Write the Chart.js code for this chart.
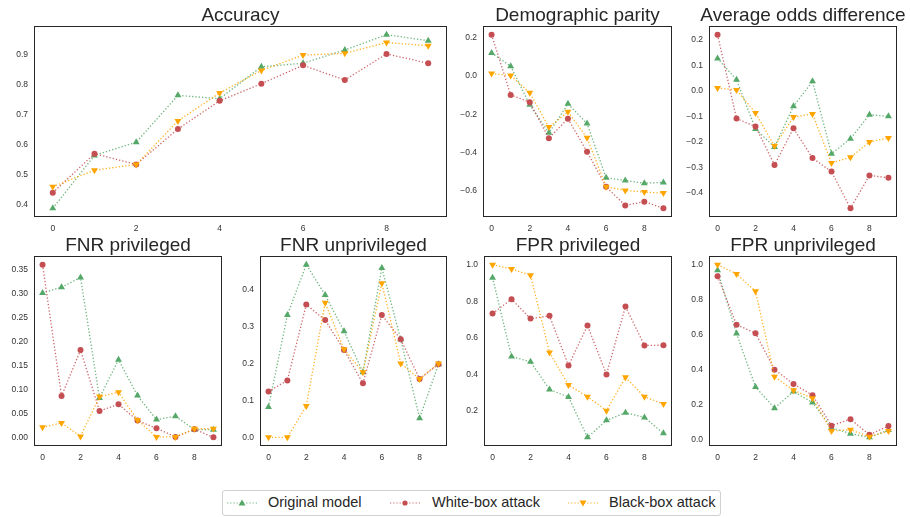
<!DOCTYPE html>
<html>
<head>
<meta charset="utf-8">
<script src="https://cdn.jsdelivr.net/npm/chart.js@4/dist/chart.umd.min.js"></script>
<style>
  body { margin: 0; background: #fff; font-family: "Liberation Sans", Arial, sans-serif; }
  #wrap { position: relative; width: 910px; height: 517px; overflow: hidden; }
  .panel { position: absolute; }
  #legend { position: absolute; left: 222px; top: 490px; width: 497px; height: 24px; border: 1px solid #d0d0d0; border-radius: 3px; background: #fff; }
  .item { position: absolute; top: 0; height: 24px; }
  .item svg { position: absolute; top: 6px; left: 0; }
  .item span { position: absolute; top: 3px; white-space: nowrap; font-size: 14.5px; color: #262626; }
</style>
</head>
<body>
<div id="wrap">
  <div id="legend"></div>
</div>
<script>
const xVals = [0, 1, 2, 3, 4, 5, 6, 7, 8, 9];
const xTicks = [0, 2, 4, 6, 8];
const seriesNames = ['Original model', 'White-box attack', 'Black-box attack'];

// Accuracy
const accOriginal = [0.387, 0.563, 0.607, 0.763, 0.752, 0.858, 0.870, 0.914, 0.965, 0.945];
const accWhite    = [0.439, 0.569, 0.533, 0.651, 0.745, 0.802, 0.863, 0.814, 0.901, 0.870];
const accBlack    = [0.459, 0.514, 0.533, 0.678, 0.771, 0.846, 0.897, 0.903, 0.939, 0.928];
const accTicks = [0.4, 0.5, 0.6, 0.7, 0.8, 0.9];

// Demographic parity
const dpOriginal = [0.121, 0.052, -0.151, -0.298, -0.146, -0.249, -0.534, -0.548, -0.562, -0.558];
const dpWhite    = [0.217, -0.099, -0.137, -0.326, -0.224, -0.397, -0.581, -0.679, -0.659, -0.694];
const dpBlack    = [0.013, 0.003, -0.088, -0.268, -0.188, -0.324, -0.581, -0.600, -0.609, -0.614];
const dpTicks = [-0.6, -0.4, -0.2, 0.0, 0.2];

// Average odds difference
const aodOriginal = [0.128, 0.044, -0.149, -0.220, -0.060, 0.038, -0.246, -0.187, -0.093, -0.099];
const aodWhite    = [0.221, -0.108, -0.139, -0.290, -0.146, -0.263, -0.316, -0.460, -0.331, -0.340];
const aodBlack    = [0.012, 0.004, -0.086, -0.216, -0.102, -0.090, -0.282, -0.260, -0.200, -0.184];
const aodTicks = [-0.4, -0.3, -0.2, -0.1, 0.0, 0.1, 0.2];

// FNR privileged
const fnrpOriginal = [0.301, 0.313, 0.333, 0.082, 0.162, 0.087, 0.037, 0.044, 0.016, 0.016];
const fnrpWhite    = [0.360, 0.086, 0.182, 0.055, 0.069, 0.035, 0.019, 0.001, 0.017, 0.000];
const fnrpBlack    = [0.021, 0.030, 0.002, 0.085, 0.094, 0.036, 0.001, 0.001, 0.018, 0.018];
const fnrpTicks = [0.00, 0.05, 0.10, 0.15, 0.20, 0.25, 0.30, 0.35];

// FNR unprivileged
const fnruOriginal = [0.083, 0.332, 0.468, 0.386, 0.288, 0.177, 0.459, 0.266, 0.053, 0.199];
const fnruWhite    = [0.125, 0.155, 0.360, 0.318, 0.237, 0.147, 0.332, 0.266, 0.159, 0.199];
const fnruBlack    = [0.001, 0.001, 0.086, 0.365, 0.239, 0.177, 0.418, 0.201, 0.159, 0.201];
const fnruTicks = [0.0, 0.1, 0.2, 0.3, 0.4];

// FPR privileged
const fprpOriginal = [0.929, 0.498, 0.469, 0.318, 0.276, 0.056, 0.149, 0.191, 0.165, 0.078];
const fprpWhite    = [0.733, 0.811, 0.705, 0.720, 0.449, 0.667, 0.400, 0.771, 0.558, 0.560];
const fprpBlack    = [1.000, 0.976, 0.942, 0.520, 0.342, 0.278, 0.202, 0.384, 0.278, 0.238];
const fprpTicks = [0.2, 0.4, 0.6, 0.8, 1.0];

// FPR unprivileged
const fpruOriginal = [0.968, 0.606, 0.301, 0.180, 0.275, 0.212, 0.068, 0.034, 0.013, 0.055];
const fpruWhite    = [0.934, 0.657, 0.608, 0.400, 0.318, 0.254, 0.080, 0.117, 0.028, 0.078];
const fpruBlack    = [1.000, 0.947, 0.848, 0.360, 0.282, 0.237, 0.049, 0.057, 0.017, 0.049];
const fpruTicks = [0.0, 0.2, 0.4, 0.6, 0.8, 1.0];

const colors = ['#55a868', '#c44e52', '#ffa500'];
const lineColors = ['rgba(85,168,104,0.85)', 'rgba(196,78,82,0.85)', 'rgba(255,165,0,0.85)'];
const FONT = '"Liberation Sans", Arial, sans-serif';
const YW = 34; // room for the y tick labels

// box = plot frame in page pixels: left, top, right, bottom
const panels = [
  { title: 'Accuracy', box: [34, 26, 447, 217], series: [accOriginal, accWhite, accBlack], ticks: accTicks, dec: 1 },
  { title: 'Demographic parity', box: [483, 26, 672, 217], series: [dpOriginal, dpWhite, dpBlack], ticks: dpTicks, dec: 1 },
  { title: 'Average odds difference', box: [709, 26, 897, 217], series: [aodOriginal, aodWhite, aodBlack], ticks: aodTicks, dec: 1 },
  { title: 'FNR privileged', box: [34, 256, 222, 446], series: [fnrpOriginal, fnrpWhite, fnrpBlack], ticks: fnrpTicks, dec: 2 },
  { title: 'FNR unprivileged', box: [260, 256, 447, 446], series: [fnruOriginal, fnruWhite, fnruBlack], ticks: fnruTicks, dec: 1 },
  { title: 'FPR privileged', box: [484, 256, 672, 446], series: [fprpOriginal, fprpWhite, fprpBlack], ticks: fprpTicks, dec: 1 },
  { title: 'FPR unprivileged', box: [709, 256, 897, 446], series: [fpruOriginal, fpruWhite, fpruBlack], ticks: fpruTicks, dec: 1 }
];

// frame around the plot area, like the matplotlib spines,
// and the subplot title centred over the frame (may run past it)
const boxPlugin = {
  id: 'box',
  afterDatasetsDraw(chart, args, opts) {
    const a = chart.chartArea, ctx = chart.ctx;
    ctx.save();
    ctx.strokeStyle = '#262626';
    ctx.lineWidth = 1;
    ctx.strokeRect(Math.round(a.left) + 0.5, Math.round(a.top) + 0.5, Math.round(a.right - a.left) - 1, Math.round(a.bottom - a.top) - 1);
    ctx.fillStyle = '#262626';
    ctx.font = '19px ' + FONT;
    ctx.textAlign = 'center';
    ctx.textBaseline = 'alphabetic';
    ctx.fillText(opts.text, (a.left + a.right) / 2, a.top - 5);
    ctx.restore();
  }
};

const pointStyles = ['triangle', 'circle', 'triangle'];
const pointRot = [0, 0, 180];
const pointRad = [4, 3, 4];

const wrap = document.getElementById('wrap');

panels.forEach(p => {
  const [bl, bt, br, bb] = p.box;
  const top = bt - 26;
  const div = document.createElement('div');
  div.className = 'panel';
  div.style.left = (bl - YW) + 'px';
  div.style.top = top + 'px';
  const cv = document.createElement('canvas');
  cv.width = (br - bl) + 2 * YW;
  cv.height = bb + 22 - top;
  div.appendChild(cv);
  wrap.appendChild(div);

  let lo = Infinity, hi = -Infinity;
  p.series.forEach(s => s.forEach(v => { lo = Math.min(lo, v); hi = Math.max(hi, v); }));
  const pad = (hi - lo) * 0.05;

  new Chart(cv.getContext('2d'), {
    type: 'line',
    data: {
      datasets: p.series.map((s, i) => ({
        label: seriesNames[i],
        data: s.map((v, j) => ({ x: xVals[j], y: v })),
        borderColor: lineColors[i],
        borderWidth: 1.3,
        borderDash: [1.3, 2],
        backgroundColor: colors[i],
        pointBackgroundColor: colors[i],
        pointBorderWidth: 0,
        pointStyle: pointStyles[i],
        pointRotation: pointRot[i],
        pointRadius: pointRad[i],
        tension: 0,
        fill: false,
        order: 2 - i
      }))
    },
    options: {
      responsive: false,
      devicePixelRatio: 1,
      animation: false,
      layout: { padding: { left: 0, right: YW, top: 26, bottom: 0 } },
      plugins: {
        legend: { display: false },
        tooltip: { enabled: false },
        title: { display: false },
        box: { text: p.title }
      },
      scales: {
        x: {
          type: 'linear',
          min: -0.45,
          max: 9.45,
          grid: { display: false, drawTicks: false },
          border: { display: false },
          afterBuildTicks: s => { s.ticks = xTicks.map(v => ({ value: v })); },
          afterFit: s => { s.height = 22; },
          ticks: { color: '#333', padding: 7, font: { family: FONT, size: 8.5 }, maxRotation: 0, callback: v => String(v) }
        },
        y: {
          min: lo - pad,
          max: hi + pad,
          grid: { display: false, drawTicks: false },
          border: { display: false },
          afterBuildTicks: s => { s.ticks = p.ticks.map(v => ({ value: v })); },
          afterFit: s => { s.width = YW; },
          ticks: { color: '#333', padding: 6, font: { family: FONT, size: 8.5 }, callback: v => v.toFixed(p.dec).replace('-', '\u2212') }
        }
      }
    },
    plugins: [boxPlugin]
  });
});

// legend, matplotlib style: dotted line with the marker in the middle
const legend = document.getElementById('legend');
const itemLeft = [4, 167, 345];
const textLeft = [45, 209, 386];
seriesNames.forEach((name, i) => {
  const it = document.createElement('div');
  it.className = 'item';
  it.style.left = itemLeft[i] + 'px';
  let marker;
  if (i === 0) marker = '<polygon points="15,2.5 18.5,8.5 11.5,8.5" fill="' + colors[i] + '"/>';
  else if (i === 1) marker = '<circle cx="15" cy="6" r="2.6" fill="' + colors[i] + '"/>';
  else marker = '<polygon points="15,9.5 18.5,3.5 11.5,3.5" fill="' + colors[i] + '"/>';
  it.innerHTML = '<svg width="30" height="12"><line x1="0" y1="6" x2="30" y2="6" stroke="' + lineColors[i] +
    '" stroke-width="1.2" stroke-dasharray="1.2 2"/>' + marker + '</svg>' +
    '<span style="left:' + (textLeft[i] - itemLeft[i]) + 'px">' + name + '</span>';
  legend.appendChild(it);
});
</script>
</body>
</html>
